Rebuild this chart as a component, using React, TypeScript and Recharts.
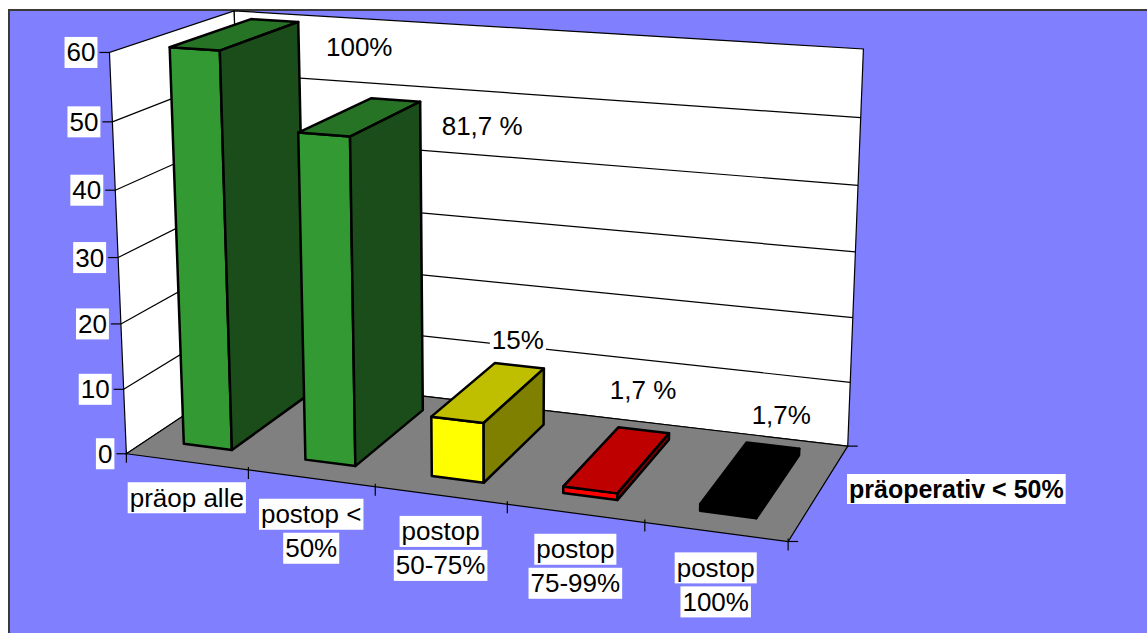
import React from 'react';
import { BarChart, Bar, XAxis, YAxis, LabelList } from 'recharts';

// chart values
const categories = ['präop alle', 'postop <\n50%', 'postop\n50-75%', 'postop\n75-99%', 'postop\n100%'];
const patients = [60, 49, 9, 1, 1];
const shares = ['100%', '81,7 %', '15%', '1,7 %', '1,7%'];
const barColors = ['#339933', '#339933', '#FFFF00', '#FF0000', '#000000'];
const yTicks = [0, 10, 20, 30, 40, 50, 60];
const seriesName = 'präoperativ < 50%';

const data = categories.map((name, i) => ({ name, count: patients[i], share: shares[i] }));

// layout
const W = 1147;
const H = 633;
const PLOT_LEFT = 47;
const PLOT_TOP = 13;
const PLOT_W = 1000;
const PLOT_H = 600;
const PLOT_BOTTOM = PLOT_TOP + PLOT_H;
const BAND = PLOT_W / categories.length;
const Y_MAX = 60;
const Z_FRONT = 0.17;
const Z_BACK = 0.84;
const FONT = "'Liberation Sans', Arial, sans-serif";

// hand-placed data label nudges (relative to top back right corner of each box)
const labelNudge = [[61, 25], [62, 24], [-26, -29], [-26, -43], [-18, -34]];

// screen points of the 3d box corners (category units, value/60, depth 0..1)
const calib: number[][] = [
  [0, 0, 0, 127, 452], [1, 0, 0, 248, 472], [2, 0, 0, 376, 488], [3, 0, 0, 507, 507],
  [4, 0, 0, 645, 525], [5, 0, 0, 787, 538], [5, 0, 1, 848, 445], [0, 0, 1, 245, 375],
  [0, 1, 0, 110, 52], [0, 1, 1, 233, 12], [5, 1, 1, 864, 49],
  [0, 5 / 6, 0, 113, 122], [0, 4 / 6, 0, 115, 190], [0, 3 / 6, 0, 118, 257],
  [0, 2 / 6, 0, 121, 323], [0, 1 / 6, 0, 123, 388],
];

function solve(A: number[][], b: number[]) {
  const n = b.length;
  const M = A.map((row, i) => [...row, b[i]]);
  for (let c = 0; c < n; c++) {
    let p = c;
    for (let r = c + 1; r < n; r++) if (Math.abs(M[r][c]) > Math.abs(M[p][c])) p = r;
    [M[c], M[p]] = [M[p], M[c]];
    for (let r = 0; r < n; r++) {
      if (r === c) continue;
      const f = M[r][c] / M[c][c];
      for (let k = c; k <= n; k++) M[r][k] -= f * M[c][k];
    }
  }
  return M.map((row, i) => row[n] / row[i]);
}

const S = 1000;
const cam = (() => {
  const N = Array.from({ length: 11 }, () => new Array(11).fill(0));
  const r = new Array(11).fill(0);
  const add = (row: number[], b: number) => {
    for (let i = 0; i < 11; i++) {
      r[i] += row[i] * b;
      for (let j = 0; j < 11; j++) N[i][j] += row[i] * row[j];
    }
  };
  for (const [X, Y, Z, u0, v0] of calib) {
    const u = u0 / S;
    const v = v0 / S;
    add([X, Y, Z, 1, 0, 0, 0, 0, -u * X, -u * Y, -u * Z], u);
    add([0, 0, 0, 0, X, Y, Z, 1, -v * X, -v * Y, -v * Z], v);
  }
  return solve(N, r);
})();

function project(X: number, Y: number, Z: number): [number, number] {
  const p = cam;
  const w = p[8] * X + p[9] * Y + p[10] * Z + 1;
  return [
    ((p[0] * X + p[1] * Y + p[2] * Z + p[3]) / w) * S,
    ((p[4] * X + p[5] * Y + p[6] * Z + p[7]) / w) * S,
  ];
}

const pts = (list: number[][]) => list.map(([X, Y, Z]) => project(X, Y, Z).join(',')).join(' ');

function shade(hex: string, f: number) {
  const n = parseInt(hex.slice(1), 16);
  const c = [(n >> 16) & 255, (n >> 8) & 255, n & 255].map((v) => Math.round(v * f));
  return `rgb(${c[0]},${c[1]},${c[2]})`;
}

let ctx: CanvasRenderingContext2D | null = null;
function textWidth(s: string, size: number, bold: boolean) {
  if (!ctx) ctx = document.createElement('canvas').getContext('2d');
  if (!ctx) return s.length * size * 0.55;
  ctx.font = `${bold ? 'bold ' : ''}${size}px 'Liberation Sans'`;
  return ctx.measureText(s).width;
}

const BoxedText = ({ cx, left, right, cy, text, size = 26, bold = false }: any) => {
  const w = textWidth(text, size, bold) + 4;
  const x0 = left != null ? left : right != null ? right - w : cx - w / 2;
  const h = Math.round(size * 1.18);
  return (
    <g>
      <rect x={x0} y={cy - h / 2} width={w} height={h} fill="#fff" />
      <text x={x0 + w / 2} y={cy} textAnchor="middle" dominantBaseline="central"
        fontFamily={FONT} fontSize={size} fontWeight={bold ? 'bold' : 'normal'} fill="#000">
        {text}
      </text>
    </g>
  );
};

const Box3D = (props: any) => {
  const { x, y, width, height, index } = props;
  if (x == null || y == null) return null;
  const x0 = (x - PLOT_LEFT) / BAND;
  const x1 = (x + width - PLOT_LEFT) / BAND;
  const yt = (PLOT_BOTTOM - y) / PLOT_H;
  const yb = (PLOT_BOTTOM - (y + height)) / PLOT_H;
  const col = barColors[index] || '#339933';
  const stroke = { stroke: '#000', strokeWidth: 2.5, strokeLinejoin: 'round' as const };
  return (
    <g>
      <polygon points={pts([[x0, yb, Z_FRONT], [x1, yb, Z_FRONT], [x1, yt, Z_FRONT], [x0, yt, Z_FRONT]])} fill={col} {...stroke} />
      <polygon points={pts([[x0, yt, Z_FRONT], [x1, yt, Z_FRONT], [x1, yt, Z_BACK], [x0, yt, Z_BACK]])} fill={shade(col, 0.75)} {...stroke} />
      <polygon points={pts([[x1, yb, Z_FRONT], [x1, yb, Z_BACK], [x1, yt, Z_BACK], [x1, yt, Z_FRONT]])} fill={shade(col, 0.5)} {...stroke} />
    </g>
  );
};

const ShareLabel = (props: any) => {
  const vb = props.viewBox && props.viewBox.x != null ? props.viewBox : props;
  const { x, y, width } = vb;
  const index = props.index ?? 0;
  if (x == null) return null;
  const x1 = (x + width - PLOT_LEFT) / BAND;
  const yt = (PLOT_BOTTOM - y) / PLOT_H;
  const [px, py] = project(x1, yt, Z_BACK);
  const [dx, dy] = labelNudge[index] || [0, -20];
  return <BoxedText cx={px + dx} cy={py + dy} text={String(props.value)} />;
};

const CategoryTick = (props: any) => {
  const { x, payload } = props;
  const X = (x - PLOT_LEFT) / BAND;
  const [px, py] = project(X, 0, 0);
  const lines = String(payload.value).split('\n');
  return (
    <g>
      {lines.map((ln, k) => (
        <BoxedText key={k} cx={px} cy={py + 36 + k * 34} text={ln} />
      ))}
    </g>
  );
};

const ValueTick = (props: any) => {
  const { y, payload } = props;
  const yn = (PLOT_BOTTOM - y) / PLOT_H;
  const [px, py] = project(0, yn, 0);
  return (
    <g>
      <line x1={px - 10} y1={py} x2={px} y2={py} stroke="#000" strokeWidth={1.2} />
      <BoxedText right={px - 12} cy={py} text={String(payload.value)} />
    </g>
  );
};

const Backdrop = () => {
  const n = categories.length;
  const grid = yTicks.filter((t) => t > 0 && t < Y_MAX).map((t) => t / Y_MAX);
  const line = (a: number[], b: number[], key: string, w = 1.2) => {
    const [x1, y1] = project(a[0], a[1], a[2]);
    const [x2, y2] = project(b[0], b[1], b[2]);
    return <line key={key} x1={x1} y1={y1} x2={x2} y2={y2} stroke="#000" strokeWidth={w} />;
  };
  const floorTicks = Array.from({ length: n + 1 }, (_, i) => {
    const [tx, ty] = project(i, 0, 0);
    return <line key={`ft${i}`} x1={tx} y1={ty - 3} x2={tx} y2={ty + 9} stroke="#000" strokeWidth={1.2} />;
  });
  const [rx0, ry0] = project(n, 0, 0);
  const [rx1, ry1] = project(n, 0, 1);
  return (
    <svg width={W} height={H} style={{ position: 'absolute', left: 0, top: 0 }}>
      <rect x={9} y={10} width={W} height={H} fill="#8080FF" stroke="#3a3a3a" strokeWidth={2} />
      <polygon points={pts([[0, 0, 0], [0, 0, 1], [0, 1, 1], [0, 1, 0]])} fill="#fff" stroke="#000" strokeWidth={1.2} />
      <polygon points={pts([[0, 0, 1], [n, 0, 1], [n, 1, 1], [0, 1, 1]])} fill="#fff" stroke="#000" strokeWidth={1.2} />
      {grid.map((g) => line([0, g, 0], [0, g, 1], `sg${g}`))}
      {grid.map((g) => line([0, g, 1], [n, g, 1], `bg${g}`))}
      <polygon points={pts([[0, 0, 0], [n, 0, 0], [n, 0, 1], [0, 0, 1]])} fill="#808080" stroke="#000" strokeWidth={1.2} />
      {floorTicks}
      <line x1={rx0} y1={ry0} x2={rx0 + 10} y2={ry0} stroke="#000" strokeWidth={1.2} />
      <line x1={rx1} y1={ry1} x2={rx1 + 10} y2={ry1} stroke="#000" strokeWidth={1.2} />
      <BoxedText left={847} cy={489} text={seriesName} size={25} bold />
    </svg>
  );
};

export default function App() {
  return (
    <div style={{ position: 'absolute', left: 0, top: 0, width: W, height: H, background: '#fff' }}>
      <Backdrop />
      <div style={{ position: 'absolute', left: 0, top: 0 }}>
        <BarChart width={W} height={H} data={data} barCategoryGap="30%"
          margin={{ top: PLOT_TOP, right: W - PLOT_LEFT - PLOT_W, bottom: 0, left: 0 }}>
          <XAxis dataKey="name" height={H - PLOT_BOTTOM} axisLine={false} tickLine={false}
            interval={0} tick={<CategoryTick />} />
          <YAxis width={PLOT_LEFT} domain={[0, Y_MAX]} ticks={yTicks} axisLine={false} tickLine={false}
            interval={0} tick={<ValueTick />} />
          <Bar dataKey="count" name={seriesName} isAnimationActive={false} shape={(p: any) => <Box3D {...p} />}>
            <LabelList dataKey="share" content={(p: any) => <ShareLabel {...p} />} />
          </Bar>
        </BarChart>
      </div>
    </div>
  );
}
